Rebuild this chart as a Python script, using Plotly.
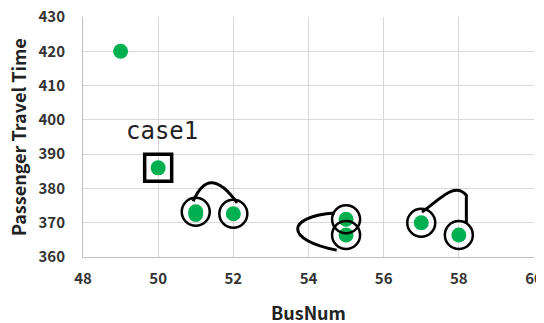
import plotly.graph_objects as go

bus_num = [49, 50, 51, 51, 52, 55, 55, 57, 58]
travel_time = [420, 386, 373.2, 372.4, 372.6, 371, 366.4, 370, 366.4]
circled_idx = [2, 4, 5, 6, 7, 8]
case_idx = 1
case_label = "case1"
x_ticks = [48, 50, 52, 54, 56, 58, 60]
y_ticks = [360, 370, 380, 390, 400, 410, 420, 430]
x_title = "BusNum"
y_title = "Passenger Travel Time"

fig = go.Figure()

def pt(i, dx=0.0, dy=0.0):
    return bus_num[i] + dx, travel_time[i] + dy

a = pt(2, -0.07, 3.0); b = pt(4, 0.1, 3.2)
p1 = f"M {a[0]},{a[1]} C {a[0]+0.3},{a[1]+7.5} {b[0]-0.5},{b[1]+7.5} {b[0]},{b[1]}"
c = pt(5, -0.3, 1.8); d = pt(6, -0.25, -4.4)
p2 = f"M {c[0]},{c[1]} C {c[0]-1.3},{c[1]-1} {d[0]-1.4},{d[1]+3} {d[0]},{d[1]}"
e = pt(7, 0.02, 3.1); f_ = pt(8, 0.2, 3.6)
p3 = f"M {e[0]},{e[1]} C {e[0]+0.5},{e[1]+4} {f_[0]-0.3},{f_[1]+12} {f_[0]},{f_[1]+8} L {f_[0]},{f_[1]}"

shapes = []
for p in (p1, p2, p3):
    shapes.append(dict(type="path", path=p, xref="x", yref="y",
                       line=dict(color="black", width=3), layer="above"))

fig.add_trace(go.Scatter(
    x=bus_num, y=travel_time, mode="markers",
    marker=dict(color="#00B050", size=15, line=dict(width=0)),
    hoverinfo="skip", showlegend=False, cliponaxis=False))

fig.add_trace(go.Scatter(
    x=[bus_num[i] for i in circled_idx], y=[travel_time[i] for i in circled_idx],
    mode="markers",
    marker=dict(symbol="circle-open", color="black", size=28, line=dict(width=2.5, color="black")),
    hoverinfo="skip", showlegend=False, cliponaxis=False))

fig.add_trace(go.Scatter(
    x=[bus_num[case_idx]], y=[travel_time[case_idx]], mode="markers",
    marker=dict(symbol="square-open", color="black", size=27, line=dict(width=3.5, color="black")),
    hoverinfo="skip", showlegend=False))

fig.add_annotation(x=bus_num[case_idx] + 0.09, y=travel_time[case_idx] + 10.7, text=case_label,
                   showarrow=False, font=dict(family="DejaVu Sans Mono", size=24, color="#222"),
                   xref="x", yref="y")

fig.add_annotation(x=0.5, y=-0.229, xref="paper", yref="paper", text=f"<b>{x_title}</b>",
                   showarrow=False, yanchor="middle", xanchor="center",
                   font=dict(family="Noto Sans CJK JP", size=18, color="#222"))
fig.add_annotation(x=-0.144, y=0.5, xref="paper", yref="paper", text=f"<b>{y_title}</b>",
                   showarrow=False, textangle=-90, yanchor="middle", xanchor="center",
                   font=dict(family="Noto Sans CJK JP", size=18, color="#222"))

tickfont = dict(size=15, family="Noto Sans CJK JP", weight="bold", color="#333")
# page body has an 8px margin, so the figure is 8px smaller and margins shifted
fig.update_layout(
    width=536, height=315,
    margin=dict(l=75, r=10, t=9, b=66, autoexpand=False),
    plot_bgcolor="white", paper_bgcolor="white",
    shapes=shapes,
    font=dict(family="Noto Sans CJK JP", color="#333"),
)
fig.update_xaxes(range=[48, 60], tickvals=x_ticks, showgrid=True, gridcolor="#d9d9d9", gridwidth=1,
                 showline=True, linecolor="#bfbfbf", linewidth=1, zeroline=False, automargin=False,
                 tickfont=tickfont, ticks="", ticklabelstandoff=8, ticklabeloverflow="allow")
fig.update_yaxes(range=[360, 430], tickvals=y_ticks, showgrid=True, gridcolor="#d9d9d9", gridwidth=1,
                 showline=True, linecolor="#bfbfbf", linewidth=1, zeroline=False, automargin=False,
                 tickfont=tickfont, ticks="", ticklabelstandoff=14, ticklabeloverflow="allow")

fig.write_html("out.html")
